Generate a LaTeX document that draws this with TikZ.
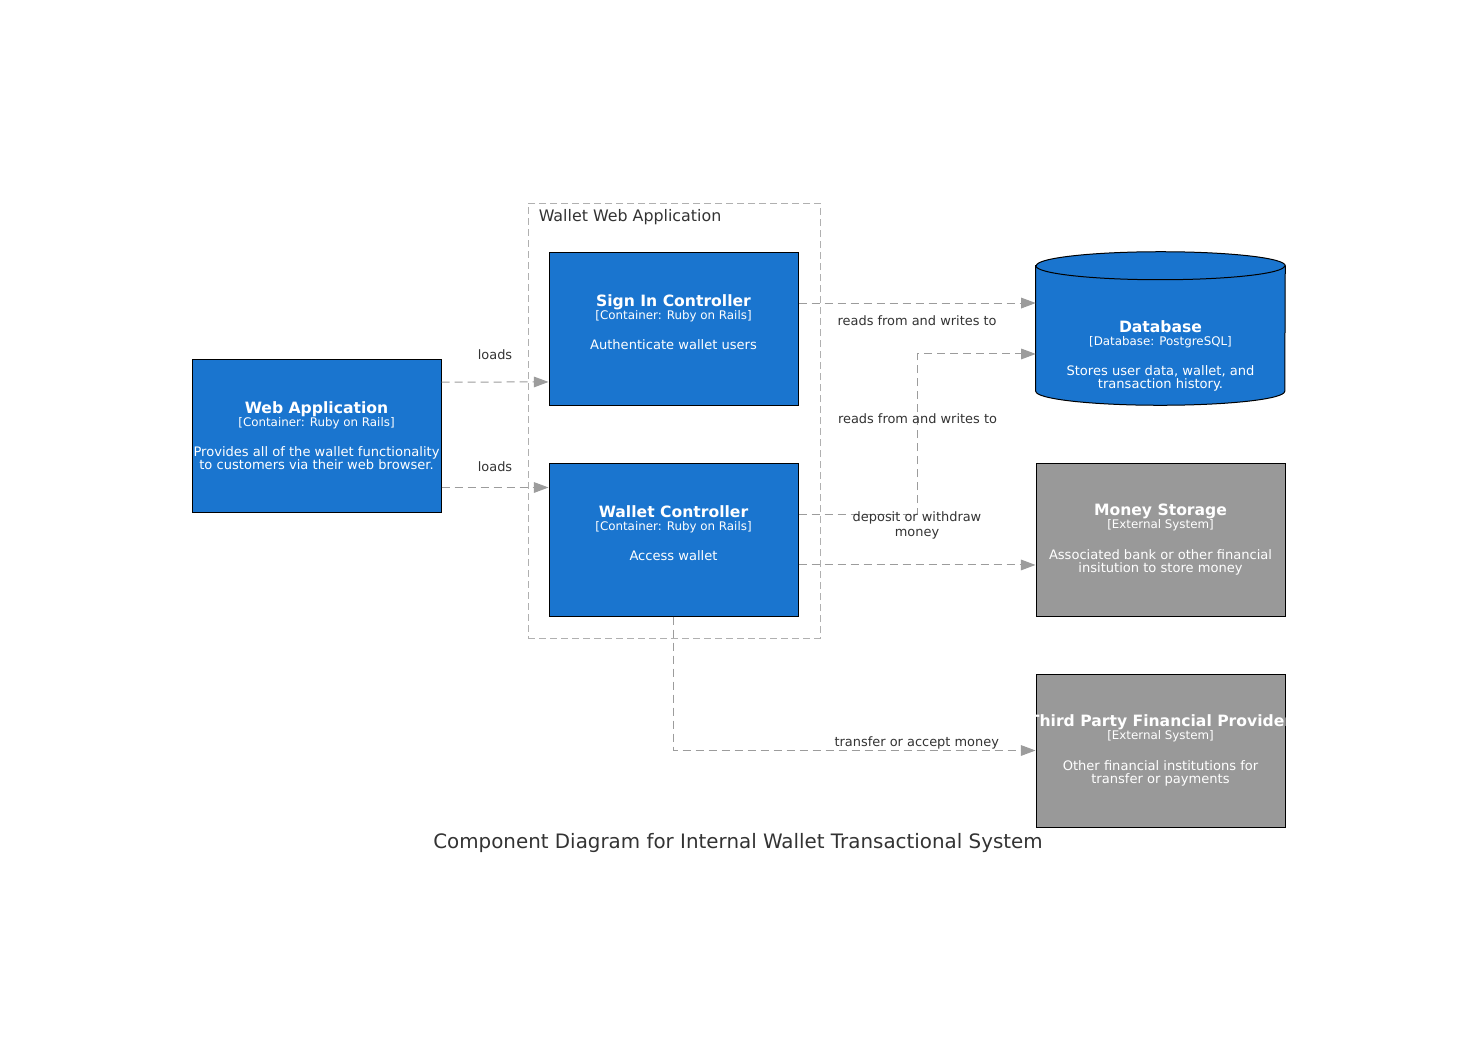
\documentclass[tikz,border=0pt]{standalone}
\usepackage{fontspec}
\setmainfont{DejaVu Sans}
\usetikzlibrary{arrows.meta}

\definecolor{compblue}{HTML}{1A75CF}
\definecolor{extgray}{HTML}{999999}
\definecolor{relgray}{HTML}{9C9C9C}
\definecolor{boxgray}{HTML}{B0B0B0}
\definecolor{txtgray}{HTML}{333333}

\newcommand{\compbody}[3]{{\fontsize{11.7}{12}\bfseries #1}\\[0pt]{\fontsize{8.9}{9}\selectfont [#2]}\\[13.2pt]#3}

\tikzset{
  comp/.style={draw=black, line width=0.75pt, fill=compblue, text=white, minimum width=186.75pt, minimum height=114.75pt, align=center, inner sep=0pt, font=\fontsize{9.8}{9.75}\selectfont},
  ext/.style={comp, fill=extgray},
  rel/.style={draw=relgray, line width=0.75pt, dash pattern=on 6pt off 3.75pt, -{Triangle[length=11pt, width=8pt]}},
  lbl/.style={text=txtgray, align=center, font=\fontsize{9.7}{11.25}\selectfont},
}

\begin{document}
\begin{tikzpicture}[x=0.75pt, y=-0.75pt]
    \fill[white] (0,0) rectangle (1477,1053);
    \useasboundingbox (0,0) rectangle (1477,1053);

    \node (wwa) [draw=boxgray, line width=0.75pt, dash pattern=on 5.25pt off 3pt, minimum width=219pt, minimum height=326.25pt] at (674,420.5) {};
    \node (wwa-title) [anchor=west, inner sep=0pt, text=txtgray, font=\fontsize{11.9}{12}\selectfont] at ([xshift=8.25pt, yshift=-11.25pt]wwa.north west) {Wallet Web Application};

    \node (web) [comp] at (316.5,435.5) {\compbody{Web Application}{Container: Ruby on Rails}{Provides all of the wallet functionality\\to customers via their web browser.}};
    \node (signin) [comp] at (673.5,328.5) {\compbody{Sign In Controller}{Container: Ruby on Rails}{Authenticate wallet users\\\mbox{}}};
    \node (wallet) [comp] at (673.5,539.5) {\compbody{Wallet Controller}{Container: Ruby on Rails}{Access wallet\\\mbox{}}};

    \node (db) [minimum width=186.75pt, minimum height=114.75pt] at (1160.5,328.5) {};
    \draw[fill=compblue, line width=0.75pt] ([yshift=-10.5pt]db.north west) -- ([yshift=10.5pt]db.south west) arc[start angle=180, end angle=360, x radius=93.375pt, y radius=10.5pt] -- ([yshift=-10.5pt]db.north east) arc[start angle=0, end angle=180, x radius=93.375pt, y radius=10.5pt] -- cycle;
    \draw[line width=0.75pt] ([yshift=-10.5pt]db.north west) arc[start angle=180, end angle=360, x radius=93.375pt, y radius=10.5pt];
    \node (db-text) [text=white, align=center, inner sep=0pt, font=\fontsize{9.8}{9.75}\selectfont] at (1160.5,356) {\compbody{Database}{Database: PostgreSQL}{Stores user data, wallet, and\\transaction history.}};

    \node (money) [ext] at (1160.5,539.5) {\compbody{Money Storage}{External System}{Associated bank or other financial\\insitution to store money}};
    \node (third) [ext] at (1160.5,750.5) {\compbody{\makebox[0pt]{Third Party Financial Provider}}{External System}{Other financial institutions for\\transfer or payments}};

    \draw[rel] ([yshift=40.1pt]web.east) -- node[lbl, yshift=20.5pt] (loads-signin) {loads} ([yshift=-40.1pt]signin.west);
    \draw[rel] ([yshift=-39pt]web.east) -- node[lbl, yshift=15.5pt] (loads-wallet) {loads} ([yshift=39pt]wallet.west);
    \draw[rel] ([yshift=19.1pt]signin.east) -- node[lbl, yshift=-13pt] (rw-signin) {reads from and writes to} ([yshift=19.1pt]db.west);
    \draw[rel] ([yshift=19.1pt]wallet.east) -- ++(119,0) |- node[lbl, pos=0.25, yshift=11.5pt] (rw-wallet) {reads from and writes to} ([yshift=-19.1pt]db.west);
    \draw[rel] ([yshift=-19.1pt]wallet.east) -- node[lbl, yshift=30pt] (deposit) {deposit or withdraw\\money} ([yshift=-19.1pt]money.west);
    \draw[rel] (wallet.south) |- node[lbl, pos=0.836, yshift=5.5pt] (transfer) {transfer or accept money} (third.west);

    \node (caption) [text=txtgray, font=\fontsize{14.9}{16}\selectfont] at (738,843.5) {Component Diagram for Internal Wallet Transactional System};
\end{tikzpicture}
\end{document}
